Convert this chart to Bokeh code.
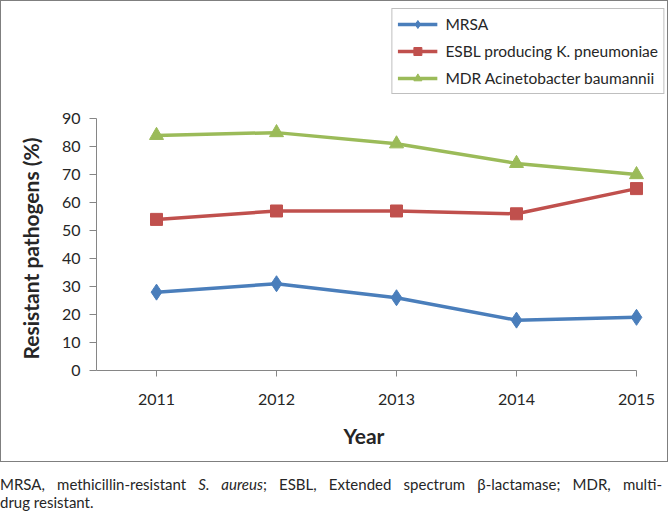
from bokeh.plotting import figure
from bokeh.models import Range1d, FixedTicker, Title, Div
from bokeh.layouts import column
from bokeh.embed import file_html
from bokeh.resources import INLINE

# ---- data ----
years = [2011, 2012, 2013, 2014, 2015]
mrsa = [28, 31, 26, 18, 19]
esbl = [54, 57, 57, 56, 65]
mdr = [84, 85, 81, 74, 70]
series_names = ["MRSA", "ESBL producing K. pneumoniae", "MDR Acinetobacter baumannii"]
y_ticks = [0, 10, 20, 30, 40, 50, 60, 70, 80, 90]
x_title = "Year"
y_title = "Resistant pathogens (%)"
caption_line1 = ("MRSA, methicillin-resistant <i>S. aureus</i>; ESBL, Extended spectrum "
                 "\u03b2-lactamase; MDR, multi-")
caption_line2 = "drug resistant."

FONT = "Lato"
TXT = "#262626"
AX = "#868686"

p = figure(width=666, height=460,
           x_range=Range1d(2010.5, 2015.25), y_range=Range1d(0, 130.07),
           output_backend="svg", toolbar_location=None,
           min_border_left=92, min_border_right=3, min_border_top=5, min_border_bottom=93)
p.styles = {"border": "1px solid #7f7f7f", "box-sizing": "content-box"}
p.xgrid.visible = False
p.ygrid.visible = False
p.outline_line_color = None

colors = ["#4a7ebb", "#c0504d", "#9bbb59"]
markers = ["diamond", "square", "triangle"]
sizes = [16, 12, 14]
for vals, name, c, m, s in zip([mrsa, esbl, mdr], series_names, colors, markers, sizes):
    p.line(years, vals, line_color=c, line_width=3.5, legend_label=name)
    p.scatter(years, vals, marker=m, size=s, fill_color=c, line_color=c, legend_label=name)

# axes
for ax in (p.xaxis[0], p.yaxis[0]):
    ax.axis_line_color = AX
    ax.major_tick_line_color = AX
    ax.minor_tick_line_color = None
    ax.major_tick_in = 0
    ax.major_label_text_font = FONT
    ax.major_label_text_font_size = "16px"
    ax.major_label_text_color = TXT

p.xaxis.ticker = FixedTicker(ticks=years)
p.xaxis.bounds = (2010.5, 2015)
p.xaxis.major_tick_out = 6
p.xaxis.major_label_standoff = 17

p.yaxis.ticker = FixedTicker(ticks=y_ticks)
p.yaxis.bounds = (0, 90)
p.yaxis.major_tick_out = 7
p.yaxis.major_label_standoff = 9

# axis titles (positioned along the bounded axes)
p.add_layout(Title(text=y_title, align="left", offset=11, vertical_align="middle",
                   standoff=30, text_font=FONT, text_font_size="21px",
                   text_font_style="bold", text_color=TXT), "left")
p.add_layout(Title(text=x_title, align="left", offset=247, vertical_align="middle",
                   standoff=28, text_font=FONT, text_font_size="21px",
                   text_font_style="bold", text_color=TXT), "below")

lg = p.legend[0]
lg.location = "top_right"
lg.margin = 2
lg.padding = 5
lg.spacing = 7
lg.label_height = 20
lg.glyph_height = 20
lg.glyph_width = 40
lg.label_standoff = 8
lg.label_text_font = FONT
lg.label_text_font_size = "15.5px"
lg.label_text_color = TXT
lg.border_line_color = "#7f7f7f"
lg.border_line_width = 1
lg.background_fill_alpha = 1

caption_html = (
    '<div style="text-align:justify;text-align-last:justify;width:662px">'
    + caption_line1 + '</div><div>' + caption_line2 + '</div>'
)
cap = Div(text=caption_html, width=668, margin=(13, 0, 0, 0),
          styles={"font-family": FONT, "font-size": "15px",
                  "line-height": "18px", "color": TXT})

layout = column(p, cap, spacing=0)
open("out.html", "w").write(file_html(layout, INLINE))
